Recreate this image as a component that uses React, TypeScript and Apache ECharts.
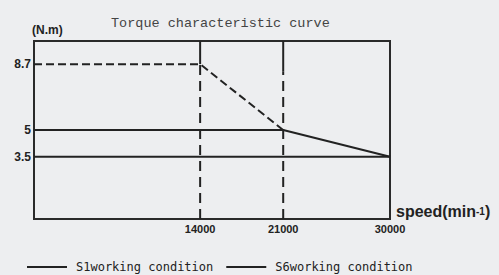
import React, { useEffect, useRef } from "react";
import * as echarts from "echarts";

const xTicks = [14000, 21000, 30000];
const yTicks = [3.5, 5, 8.7];
const xMax = 30000;
const yMax = 10;

const s1Speed = [0, 21000, 30000];
const s1Torque = [5, 5, 3.5];
const s6Speed = [0, 14000, 21000];
const s6Torque = [8.7, 8.7, 5];
const baseSpeed = [0, 30000];
const baseTorque = [3.5, 3.5];
const markerSpeed = [14000, 21000];
const markerSolidTop = [8.7, 8.3];

const INK = "#222";

export default function App() {
  const ref = useRef<HTMLDivElement>(null);
  useEffect(() => {
    if (!ref.current) return;
    const chart = echarts.init(ref.current, null, { renderer: "svg" });
    const zip = (xs: number[], ys: number[]) => xs.map((x, i) => [x, ys[i]]);
    const series: any[] = [];
    markerSpeed.forEach((sp, i) => {
      series.push({
        type: "line",
        name: "marker" + i,
        data: [[sp, 0], [sp, markerSolidTop[i]]],
        symbol: "none",
        lineStyle: { color: INK, width: 2, type: [10, 6] },
        z: 1,
      });
      series.push({
        type: "line",
        name: "markerTop" + i,
        data: [[sp, markerSolidTop[i]], [sp, yMax]],
        symbol: "none",
        lineStyle: { color: INK, width: 2, type: "solid" },
        z: 1,
      });
    });
    series.push({
      type: "line",
      name: "S1working condition",
      data: zip(s1Speed, s1Torque),
      symbol: "none",
      lineStyle: { color: INK, width: 2, type: "solid" },
      itemStyle: { color: INK },
      z: 3,
    });
    series.push({
      type: "line",
      name: "base",
      data: zip(baseSpeed, baseTorque),
      symbol: "none",
      lineStyle: { color: INK, width: 2, type: "solid" },
      z: 3,
    });
    series.push({
      type: "line",
      name: "S6working condition",
      data: zip(s6Speed, s6Torque),
      symbol: "none",
      lineStyle: { color: INK, width: 2, type: [8, 4] },
      itemStyle: { color: INK },
      z: 3,
    });

    chart.setOption({
      animation: false,
      backgroundColor: "#edeef0",
      title: {
        text: "Torque characteristic curve",
        left: 106,
        top: 11,
        textStyle: {
          fontFamily: "Liberation Mono",
          fontSize: 13.5,
          fontWeight: "normal",
          color: "#444",
        },
      },
      legend: {
        data: ["S1working condition", "S6working condition"],
        left: 22,
        top: 255,
        icon: "rect",
        itemWidth: 40,
        itemHeight: 2,
        itemGap: 13,
        textStyle: {
          fontFamily: "DejaVu Sans Mono",
          fontSize: 12,
          lineHeight: 14,
          color: INK,
          padding: [0, 0, 0, 4],
        },
      },
      grid: {
        left: 34,
        right: 109,
        top: 41,
        bottom: 56,
        show: true,
        borderColor: "#2a2a2a",
        borderWidth: 2,
        backgroundColor: "transparent",
      },
      xAxis: {
        type: "value",
        min: 0,
        max: xMax,
        axisLine: { show: false },
        axisTick: { show: false },
        splitLine: { show: false },
        axisLabel: {
          customValues: xTicks,
          formatter: (v: number) => String(v),
          margin: 4,
          fontFamily: "Liberation Sans",
          fontSize: 11,
          fontWeight: "bold",
          color: INK,
        },
        name: "{a|speed(min}{b|-1}{a|)}",
        nameLocation: "end",
        nameGap: 6,
        nameTextStyle: {
          verticalAlign: "bottom",
          align: "left",
          rich: {
            a: { fontFamily: "Liberation Sans", fontSize: 16, fontWeight: "bold", color: INK },
            b: { fontFamily: "Liberation Sans", fontSize: 10, fontWeight: "bold", color: INK, verticalAlign: "middle" },
          },
        },
      },
      yAxis: {
        type: "value",
        min: 0,
        max: yMax,
        axisLine: { show: false },
        axisTick: { show: false },
        splitLine: { show: false },
        axisLabel: {
          customValues: yTicks,
          formatter: (v: number) => String(v),
          margin: 3,
          fontFamily: "Liberation Sans",
          fontSize: 12,
          fontWeight: "bold",
          color: INK,
        },
        name: "(N.m)",
        nameLocation: "end",
        nameGap: 5,
        nameTextStyle: {
          align: "left",
          verticalAlign: "bottom",
          padding: [0, 0, 0, -2],
          fontFamily: "Liberation Sans",
          fontSize: 12,
          fontWeight: "bold",
          color: INK,
        },
      },
      series,
    });
    return () => chart.dispose();
  }, []);
  return (
    <div
      ref={ref}
      style={{ position: "fixed", left: 0, top: 0, width: 499, height: 275 }}
    />
  );
}
